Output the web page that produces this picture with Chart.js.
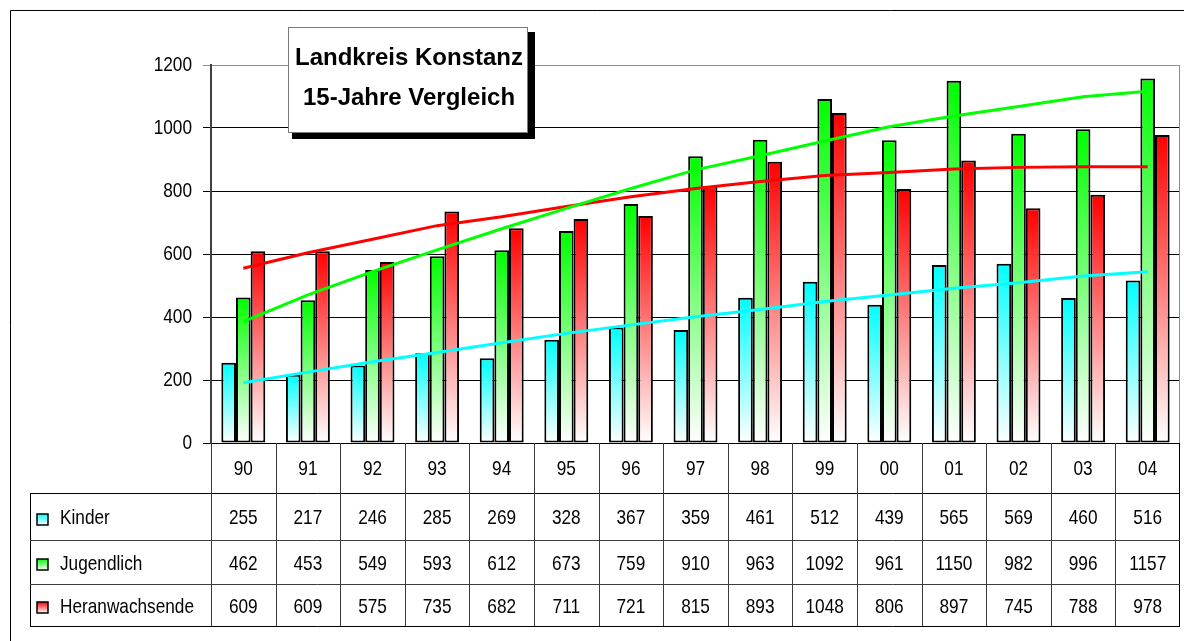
<!DOCTYPE html>
<html>
<head>
<meta charset="utf-8">
<script src="https://cdn.jsdelivr.net/npm/chart.js@4/dist/chart.umd.min.js"></script>
<style>
  html, body { margin: 0; padding: 0; background: #fff; }
  canvas { display: block; }
</style>
</head>
<body>
<canvas id="chart" width="1184" height="641"></canvas>
<script>
// Jahrgänge (x-Achse)
const years = ['90', '91', '92', '93', '94', '95', '96', '97', '98', '99', '00', '01', '02', '03', '04'];

// Werte je Gruppe
const kinder = [255, 217, 246, 285, 269, 328, 367, 359, 461, 512, 439, 565, 569, 460, 516];
const jugendlich = [462, 453, 549, 593, 612, 673, 759, 910, 963, 1092, 961, 1150, 982, 996, 1157];
const heranwachsende = [609, 609, 575, 735, 682, 711, 721, 815, 893, 1048, 806, 897, 745, 788, 978];

// Trendlinien
const trendKinder = [191, 225, 258, 287, 318, 348, 375, 401, 424, 449, 470, 491, 509, 530, 544];
const trendJugendlich = [385, 470, 544, 613, 680, 745, 808, 867, 912, 959, 1004, 1038, 1068, 1099, 1117];
const trendHeranwachsende = [555, 604, 647, 690, 718, 751, 782, 808, 830, 849, 859, 870, 875, 877, 877];

const seriesNames = ['Kinder', 'Jugendlich', 'Heranwachsende'];
const seriesColors = ['#00ffff', '#00ff00', '#ff0000'];
const seriesValues = [kinder, jugendlich, heranwachsende];

const titleLines = ['Landkreis Konstanz', '15-Jahre Vergleich'];

const FONT = "'Liberation Sans', Arial, sans-serif";
const TEXT_SIZE = 21;
const SQUEEZE = 0.82;

// schmale Schrift durch horizontales Stauchen
function narrowText(ctx, text, x, y, align) {
  ctx.save();
  ctx.translate(x, y);
  ctx.scale(SQUEEZE, 1);
  ctx.font = TEXT_SIZE + 'px ' + FONT;
  ctx.textAlign = align;
  ctx.textBaseline = 'middle';
  ctx.fillStyle = '#000';
  ctx.fillText(text, 0, 0);
  ctx.restore();
}

// Farbverlauf je Balken: oben volle Farbe, unten weiß
function barGradient(color) {
  return (context) => {
    const chart = context.chart;
    const y = chart.scales.y;
    if (!y || context.raw == null) return color;
    const top = y.getPixelForValue(context.raw);
    const bottom = y.getPixelForValue(0);
    if (!isFinite(top) || !isFinite(bottom) || bottom - top < 1) return color;
    const g = chart.ctx.createLinearGradient(0, top, 0, bottom);
    g.addColorStop(0, color);
    g.addColorStop(1, '#ffffff');
    return g;
  };
}

// Rahmen um das ganze Diagramm
const framePlugin = {
  id: 'frame',
  beforeDraw(chart) {
    const ctx = chart.ctx;
    ctx.save();
    ctx.fillStyle = '#fff';
    ctx.fillRect(0, 0, chart.width, chart.height);
    ctx.strokeStyle = '#000';
    ctx.lineWidth = 1;
    ctx.beginPath();
    ctx.moveTo(10.5, chart.height);
    ctx.lineTo(10.5, 10.5);
    ctx.lineTo(chart.width, 10.5);
    ctx.stroke();
    ctx.restore();
  }
};

// Datentabelle unter der Achse, y-Beschriftung und Titelkasten
const tablePlugin = {
  id: 'dataTable',
  afterDraw(chart) {
    const ctx = chart.ctx;
    const area = chart.chartArea;
    const xs = chart.scales.x;
    const ys = chart.scales.y;
    const n = years.length;
    const colW = (area.right - area.left) / n;
    const rows = [area.bottom, area.bottom + 50, area.bottom + 97, area.bottom + 141, area.bottom + 183];
    const tableLeft = 30;

    ctx.save();

    // y-Beschriftung an den Ticks der Skala
    ys.ticks.forEach((t, i) => {
      narrowText(ctx, String(t.value), ys.right - 19, ys.getPixelForTick(i), 'right');
    });

    // rechter Rand der Zeichenfläche
    ctx.strokeStyle = '#8c8c8c';
    ctx.lineWidth = 1;
    ctx.beginPath();
    ctx.moveTo(Math.round(area.right) - 0.5, area.top);
    ctx.lineTo(Math.round(area.right) - 0.5, area.bottom);
    ctx.stroke();

    // Tabellenlinien
    ctx.strokeStyle = '#000';
    ctx.lineWidth = 1;
    ctx.beginPath();
    ctx.moveTo(area.left, rows[0] + 0.5);
    ctx.lineTo(area.right, rows[0] + 0.5);
    ctx.moveTo(tableLeft, rows[1] + 0.5);
    ctx.lineTo(area.right, rows[1] + 0.5);
    ctx.moveTo(tableLeft, rows[4] + 0.5);
    ctx.lineTo(area.right, rows[4] + 0.5);
    ctx.moveTo(tableLeft + 0.5, rows[1]);
    ctx.lineTo(tableLeft + 0.5, rows[4]);
    ctx.moveTo(Math.round(area.right) - 0.5, rows[0]);
    ctx.lineTo(Math.round(area.right) - 0.5, rows[4]);
    ctx.stroke();

    ctx.strokeStyle = '#3c3c3c';
    ctx.beginPath();
    for (let i = 0; i < n; i++) {
      const x = Math.round(area.left + i * colW) + 0.5;
      ctx.moveTo(x, rows[0]);
      ctx.lineTo(x, rows[4]);
    }
    ctx.moveTo(tableLeft, rows[2] + 0.5);
    ctx.lineTo(area.right, rows[2] + 0.5);
    ctx.moveTo(tableLeft, rows[3] + 0.5);
    ctx.lineTo(area.right, rows[3] + 0.5);
    ctx.stroke();

    // Kopfzeile und Werte
    years.forEach((yr, i) => {
      narrowText(ctx, yr, xs.getPixelForValue(i), (rows[0] + rows[1]) / 2 + 1, 'center');
    });
    seriesValues.forEach((vals, s) => {
      const cy = (rows[s + 1] + rows[s + 2]) / 2 + 2;
      vals.forEach((v, i) => {
        narrowText(ctx, String(v), xs.getPixelForValue(i), cy, 'center');
      });
    });

    // Legendenspalte
    seriesNames.forEach((name, s) => {
      const cy = (rows[s + 1] + rows[s + 2]) / 2 + 2;
      const kx = 37, ky = Math.round(cy - 5), ks = 11;
      const g = ctx.createLinearGradient(0, ky, 0, ky + ks);
      g.addColorStop(0, seriesColors[s]);
      g.addColorStop(1, '#ffffff');
      ctx.fillStyle = g;
      ctx.fillRect(kx, ky, ks, ks);
      ctx.strokeStyle = '#000';
      ctx.lineWidth = 1.5;
      ctx.strokeRect(kx, ky, ks, ks);
      narrowText(ctx, name, 60, cy, 'left');
    });

    // Titelkasten mit Schatten
    const bx = 288, by = 27, bw = 240, bh = 106;
    ctx.fillStyle = '#000';
    ctx.fillRect(bx + 4, by + bh, bw + 3, 6);
    ctx.fillRect(bx + bw, by + 5, 7, bh + 1);
    ctx.fillStyle = '#fff';
    ctx.fillRect(bx, by, bw, bh);
    ctx.strokeStyle = '#7a7a7a';
    ctx.lineWidth = 1;
    ctx.strokeRect(bx + 0.5, by + 0.5, bw - 1, bh - 1);
    ctx.fillStyle = '#000';
    ctx.font = 'bold 24px ' + FONT;
    ctx.textAlign = 'center';
    ctx.textBaseline = 'middle';
    ctx.fillText(titleLines[0], bx + bw / 2 + 1, by + 31);
    ctx.fillText(titleLines[1], bx + bw / 2 + 1, by + 71);

    ctx.restore();
  }
};

Chart.defaults.font.family = FONT;
Chart.defaults.color = '#000';

const ctx = document.getElementById('chart').getContext('2d');
const chart = new Chart(ctx, {
  data: {
    labels: years,
    datasets: [
      {
        type: 'line', label: 'Trend Kinder', data: trendKinder,
        borderColor: seriesColors[0], borderWidth: 3, pointRadius: 0, tension: 0, order: 1
      },
      {
        type: 'line', label: 'Trend Jugendlich', data: trendJugendlich,
        borderColor: seriesColors[1], borderWidth: 3, pointRadius: 0, tension: 0, order: 1
      },
      {
        type: 'line', label: 'Trend Heranwachsende', data: trendHeranwachsende,
        borderColor: seriesColors[2], borderWidth: 3, pointRadius: 0, tension: 0, order: 1
      },
      {
        type: 'bar', label: seriesNames[0], data: kinder,
        backgroundColor: barGradient(seriesColors[0]), borderColor: '#000', borderWidth: 2,
        borderSkipped: false, order: 2
      },
      {
        type: 'bar', label: seriesNames[1], data: jugendlich,
        backgroundColor: barGradient(seriesColors[1]), borderColor: '#000', borderWidth: 2,
        borderSkipped: false, order: 2
      },
      {
        type: 'bar', label: seriesNames[2], data: heranwachsende,
        backgroundColor: barGradient(seriesColors[2]), borderColor: '#000', borderWidth: 2,
        borderSkipped: false, order: 2
      }
    ]
  },
  options: {
    responsive: false,
    animation: false,
    events: [],
    datasets: {
      bar: { categoryPercentage: 0.68, barPercentage: 1 }
    },
    layout: {
      padding: { left: 0, top: 65, right: 4, bottom: 198 }
    },
    plugins: {
      legend: { display: false },
      tooltip: { enabled: false }
    },
    scales: {
      x: {
        display: false,
        offset: true
      },
      y: {
        min: 0,
        max: 1200,
        ticks: {
          stepSize: 200,
          padding: 11,
          font: { size: 20 },
          color: 'rgba(0,0,0,0)'
        },
        grid: {
          color: (c) => (c.tick && c.tick.value === 1200 ? '#8c8c8c' : '#000'),
          lineWidth: 1,
          tickLength: 8
        },
        border: { color: '#404040', width: 2 },
        afterFit: (scale) => { scale.width = 211; }
      }
    }
  },
  plugins: [framePlugin, tablePlugin]
});
</script>
</body>
</html>
